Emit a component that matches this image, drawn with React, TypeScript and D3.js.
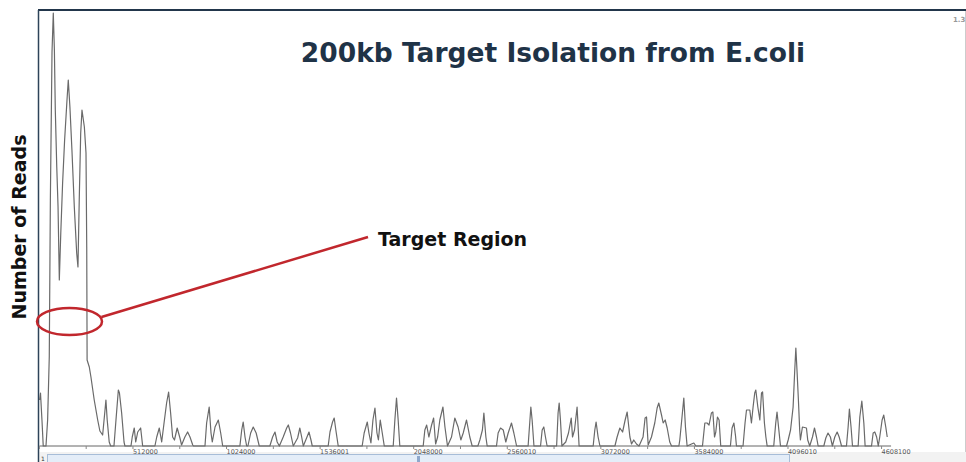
import React, { useEffect, useRef } from 'react';
import * as d3 from 'd3';

// genome position (kb) and read depth
const positionsKb = [
  1, 6, 14, 21, 36, 45, 54, 60, 69, 76, 82, 87, 95, 102, 109, 117, 127, 138, 151, 158,
  167, 178, 191, 204, 211, 218, 226, 233, 246, 255, 259, 261, 273, 282, 300, 319, 331, 346, 359, 364,
  371, 382, 390, 408, 419, 432, 438, 450, 463, 468, 501, 508, 519, 527, 538, 554, 565, 632, 642, 656,
  669, 682, 696, 707, 718, 729, 739, 754, 769, 778, 796, 811, 824, 839, 843, 906, 915, 929, 939, 946,
  961, 979, 992, 1003, 1097, 1107, 1115, 1125, 1134, 1141, 1156, 1170, 1186, 1203, 1261, 1276, 1289, 1301, 1313, 1334,
  1353, 1362, 1374, 1389, 1413, 1425, 1435, 1444, 1462, 1475, 1486, 1493, 1580, 1590, 1604, 1613, 1622, 1635, 1766, 1777,
  1794, 1803, 1814, 1825, 1836, 1847, 1855, 1865, 1876, 1887, 1936, 1945, 1954, 1963, 1972, 2100, 2109, 2119, 2131, 2146,
  2157, 2168, 2179, 2191, 2208, 2219, 2233, 2255, 2273, 2291, 2306, 2319, 2337, 2355, 2368, 2399, 2410, 2424, 2432, 2443,
  2450, 2501, 2510, 2523, 2538, 2552, 2565, 2583, 2596, 2611, 2674, 2684, 2689, 2696, 2706, 2742, 2751, 2760, 2769, 2778,
  2830, 2838, 2844, 2851, 2859, 2880, 2895, 2910, 2917, 2928, 2942, 2953, 3030, 3039, 3046, 3057, 3067, 3149, 3161, 3176,
  3191, 3205, 3216, 3231, 3240, 3252, 3267, 3281, 3303, 3314, 3322, 3331, 3349, 3367, 3380, 3389, 3404, 3413, 3424, 3435,
  3449, 3459, 3499, 3504, 3513, 3526, 3535, 3544, 3568, 3581, 3592, 3628, 3641, 3653, 3664, 3677, 3685, 3694, 3701, 3710,
  3719, 3728, 3781, 3790, 3800, 3809, 3814, 3850, 3861, 3869, 3887, 3896, 3905, 3914, 3920, 3931, 3942, 3951, 3957, 3967,
  3975, 3982, 4018, 4029, 4036, 4046, 4055, 4088, 4097, 4110, 4124, 4133, 4139, 4146, 4153, 4160, 4164, 4175, 4197, 4204,
  4215, 4230, 4241, 4252, 4261, 4292, 4303, 4315, 4328, 4339, 4352, 4365, 4376, 4389, 4416, 4425, 4432, 4441, 4449, 4480,
  4489, 4500, 4511, 4518, 4553, 4562, 4571, 4581, 4590, 4598, 4611, 4620, 4631, 4639,
];

const reads = [
  46, 53, 26, 0, 0, 26, 89, 246, 394, 433, 396, 336, 279, 239, 166, 213, 263, 306, 346, 366,
  339, 296, 239, 193, 179, 246, 313, 336, 319, 293, 199, 86, 79, 69, 46, 26, 15, 11, 36, 46,
  26, 4, 0, 0, 26, 56, 53, 33, 4, 0, 0, 9, 18, 4, 14, 18, 0, 0, 9, 18,
  4, 23, 43, 54, 33, 9, 6, 18, 8, 1, 9, 14, 9, 1, 0, 0, 23, 39, 13, 4,
  19, 26, 13, 0, 0, 16, 24, 9, 0, 0, 13, 19, 13, 0, 0, 9, 14, 4, 0, 9,
  18, 21, 13, 0, 8, 18, 9, 0, 8, 14, 6, 0, 0, 14, 24, 28, 16, 0, 0, 13,
  24, 13, 3, 26, 38, 13, 6, 26, 13, 0, 0, 26, 48, 26, 0, 0, 16, 21, 9, 21,
  28, 2, 9, 26, 39, 19, 0, 9, 28, 19, 6, 13, 26, 9, 0, 0, 6, 16, 33, 9,
  0, 0, 13, 18, 16, 4, 13, 23, 13, 0, 0, 26, 39, 26, 0, 0, 16, 19, 9, 0,
  0, 33, 43, 26, 0, 4, 13, 28, 9, 16, 39, 0, 0, 16, 24, 9, 0, 0, 9, 18,
  14, 26, 34, 9, 2, 6, 2, 0, 9, 28, 29, 1, 9, 23, 38, 43, 31, 23, 26, 18,
  4, 0, 0, 6, 23, 48, 19, 0, 2, 3, 0, 0, 23, 23, 21, 33, 34, 9, 14, 29,
  26, 0, 0, 18, 23, 10, 0, 0, 23, 36, 36, 23, 39, 53, 56, 39, 26, 53, 54, 23,
  9, 0, 0, 23, 34, 16, 0, 0, 6, 16, 39, 76, 98, 73, 46, 16, 6, 19, 18, 6,
  0, 9, 18, 9, 0, 0, 8, 13, 9, 0, 9, 14, 9, 0, 0, 19, 37, 19, 0, 0,
  29, 45, 23, 0, 0, 13, 14, 9, 0, 9, 26, 31, 19, 9,
];

const minorTicksKb = [0, 256, 512, 768, 1024, 1280, 1536, 1792, 2048, 2304, 2560, 2816, 3072, 3328, 3584, 3840, 4096, 4352, 4608];
const labelTicksKb = [512, 1024, 1536, 2048, 2560, 3072, 3584, 4096, 4608];
const tickLabels = ['512000', '1024000', '1536001', '2048000', '2560010', '3072000', '3584000', '4096010', '4608100'];

const App = () => {
  const svgRef = useRef<SVGSVGElement | null>(null);

  useEffect(() => {
    if (!svgRef.current) return;
    document.body.style.margin = '0';
    const svg = d3.select(svgRef.current);
    svg.selectAll('*').remove();

    const width = 966;
    const height = 462;
    const left = 39.4;
    const baseY = 446;

    const x = d3.scaleLinear().domain([0, 5070]).range([left, width]);
    const y = d3.scaleLinear().domain([0, 434]).range([baseY, 12]);

    svg.attr('width', width).attr('height', height);

    svg.append('rect').attr('width', width).attr('height', height).attr('fill', '#ffffff');

    // bottom scroll strip
    svg.append('rect')
      .attr('x', left).attr('y', 452).attr('width', width - left).attr('height', 10)
      .attr('fill', '#f2f2f2');
    svg.append('rect')
      .attr('x', 47.5).attr('y', 454.5).attr('width', 742).attr('height', 9)
      .attr('fill', '#e4edf8').attr('stroke', '#a7bdd8').attr('stroke-width', 1);
    svg.append('rect')
      .attr('x', 417).attr('y', 456).attr('width', 3).attr('height', 6)
      .attr('fill', '#8fa8cc');
    svg.append('text')
      .attr('x', 41).attr('y', 461)
      .attr('font-family', 'DejaVu Sans, sans-serif').attr('font-size', 6)
      .attr('fill', '#333').text('1');

    // frame
    svg.append('line')
      .attr('x1', 38).attr('x2', width).attr('y1', 10).attr('y2', 10)
      .attr('stroke', '#22364b').attr('stroke-width', 2);
    svg.append('line')
      .attr('x1', 38.5).attr('x2', 38.5).attr('y1', 10).attr('y2', height)
      .attr('stroke', '#2d4359').attr('stroke-width', 1.5);
    svg.append('line')
      .attr('x1', 965.5).attr('x2', 965.5).attr('y1', 11).attr('y2', 452)
      .attr('stroke', '#cccccc').attr('stroke-width', 1);

    // x axis baseline, ticks, labels
    svg.append('line')
      .attr('x1', left).attr('x2', x(4660)).attr('y1', baseY).attr('y2', baseY)
      .attr('stroke', '#666').attr('stroke-width', 1);
    svg.selectAll('.minor')
      .data(minorTicksKb)
      .enter()
      .append('line')
      .attr('x1', d => x(d)).attr('x2', d => x(d))
      .attr('y1', baseY).attr('y2', baseY + 3)
      .attr('stroke', '#888').attr('stroke-width', 1);
    svg.selectAll('.tick-label')
      .data(labelTicksKb)
      .enter()
      .append('text')
      .attr('x', d => x(d))
      .attr('y', 454)
      .attr('font-family', 'DejaVu Sans, sans-serif')
      .attr('font-size', 6.5)
      .attr('fill', '#555')
      .text((d, i) => tickLabels[i]);

    // coverage trace
    const pts = positionsKb.map((p, i) => [p, reads[i]] as [number, number]);
    const line = d3.line<[number, number]>()
      .x(d => x(d[0]))
      .y(d => y(d[1]));
    svg.append('path')
      .datum(pts)
      .attr('fill', 'none')
      .attr('stroke', '#6a6a6a')
      .attr('stroke-width', 1.2)
      .attr('stroke-linejoin', 'round')
      .attr('d', line);

    // annotations
    svg.append('text')
      .attr('x', 553).attr('y', 62)
      .attr('text-anchor', 'middle')
      .attr('font-family', 'DejaVu Sans, sans-serif')
      .attr('font-weight', 'bold')
      .attr('font-size', 26.5)
      .attr('fill', '#1f3347')
      .text('200kb Target Isolation from E.coli');

    svg.append('text')
      .attr('transform', 'rotate(-90)')
      .attr('x', -227).attr('y', 26)
      .attr('text-anchor', 'middle')
      .attr('font-family', 'DejaVu Sans, sans-serif')
      .attr('font-weight', 'bold')
      .attr('font-size', 19)
      .attr('fill', '#111')
      .text('Number of Reads');

    svg.append('text')
      .attr('x', 378).attr('y', 246)
      .attr('font-family', 'DejaVu Sans, sans-serif')
      .attr('font-weight', 'bold')
      .attr('font-size', 19)
      .attr('fill', '#111')
      .text('Target Region');

    svg.append('text')
      .attr('x', 953).attr('y', 22)
      .attr('font-family', 'DejaVu Sans, sans-serif')
      .attr('font-weight', 'bold')
      .attr('font-size', 7)
      .attr('fill', '#999')
      .text('1.3');

    svg.append('ellipse')
      .attr('cx', 69.5).attr('cy', 321.5).attr('rx', 32.5).attr('ry', 13.5)
      .attr('fill', 'none').attr('stroke', '#c1272d').attr('stroke-width', 2.5);
    svg.append('line')
      .attr('x1', 101.5).attr('y1', 317).attr('x2', 368).attr('y2', 237)
      .attr('stroke', '#c1272d').attr('stroke-width', 2.5);
  }, []);

  return (
    <div style={{ width: 966, height: 462 }}>
      <svg ref={svgRef} style={{ display: 'block' }}></svg>
    </div>
  );
};

export default App;
